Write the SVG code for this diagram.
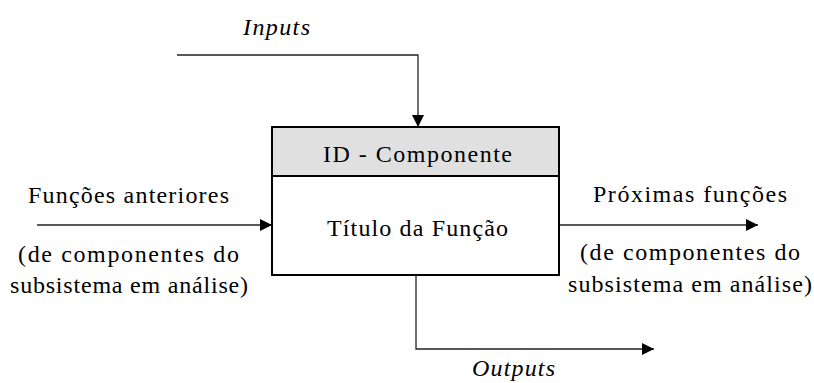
<svg xmlns="http://www.w3.org/2000/svg" width="814" height="383" viewBox="0 0 814 383">
<style>
.ln{fill:none;stroke:#222;stroke-width:1.3}
.t{font-family:"Liberation Serif","Times New Roman",serif;font-size:24px;fill:#000}
.it{font-style:italic}
</style>
<defs>
<marker id="ah" markerWidth="12" markerHeight="12" viewBox="0 0 12 12" refX="12" refY="6" orient="auto" markerUnits="userSpaceOnUse">
<path d="M0,0 L12,6 L0,12 Z" fill="#000"/>
</marker>
</defs>
<rect width="814" height="383" fill="#fff"/>
<g id="connectors">
<polyline class="ln" points="177,55 418,55 418,127" marker-end="url(#ah)"/>
<line class="ln" x1="37" y1="225" x2="272" y2="225" marker-end="url(#ah)"/>
<line class="ln" x1="559" y1="225" x2="758" y2="225" marker-end="url(#ah)"/>
<polyline class="ln" points="416,275 416,349 654,349" marker-end="url(#ah)"/>
</g>
<g id="node-box">
<rect x="272" y="127" width="287" height="49" fill="#e0e0e0" stroke="#000" stroke-width="2"/>
<rect x="272" y="176" width="287" height="99" fill="#fff" stroke="#000" stroke-width="2"/>
<text class="t" x="323" y="162" textLength="189" lengthAdjust="spacing">ID - Componente</text>
<text class="t" x="327" y="236" textLength="181" lengthAdjust="spacing">Título da Função</text>
</g>
<g id="label-inputs">
<text class="t it" x="243" y="35" textLength="67" lengthAdjust="spacing">Inputs</text>
</g>
<g id="label-anteriores">
<text class="t" x="28" y="203" textLength="201" lengthAdjust="spacing">Funções anteriores</text>
<text class="t" x="18" y="262" textLength="221" lengthAdjust="spacing">(de componentes do</text>
<text class="t" x="10" y="293" textLength="238" lengthAdjust="spacing">subsistema em análise)</text>
</g>
<g id="label-proximas">
<text class="t" x="593" y="202" textLength="194" lengthAdjust="spacing">Próximas funções</text>
<text class="t" x="580" y="260" textLength="220" lengthAdjust="spacing">(de componentes do</text>
<text class="t" x="568" y="292" textLength="244" lengthAdjust="spacing">subsistema em análise)</text>
</g>
<g id="label-outputs">
<text class="t it" x="472" y="376" textLength="83" lengthAdjust="spacing">Outputs</text>
</g>
</svg>
